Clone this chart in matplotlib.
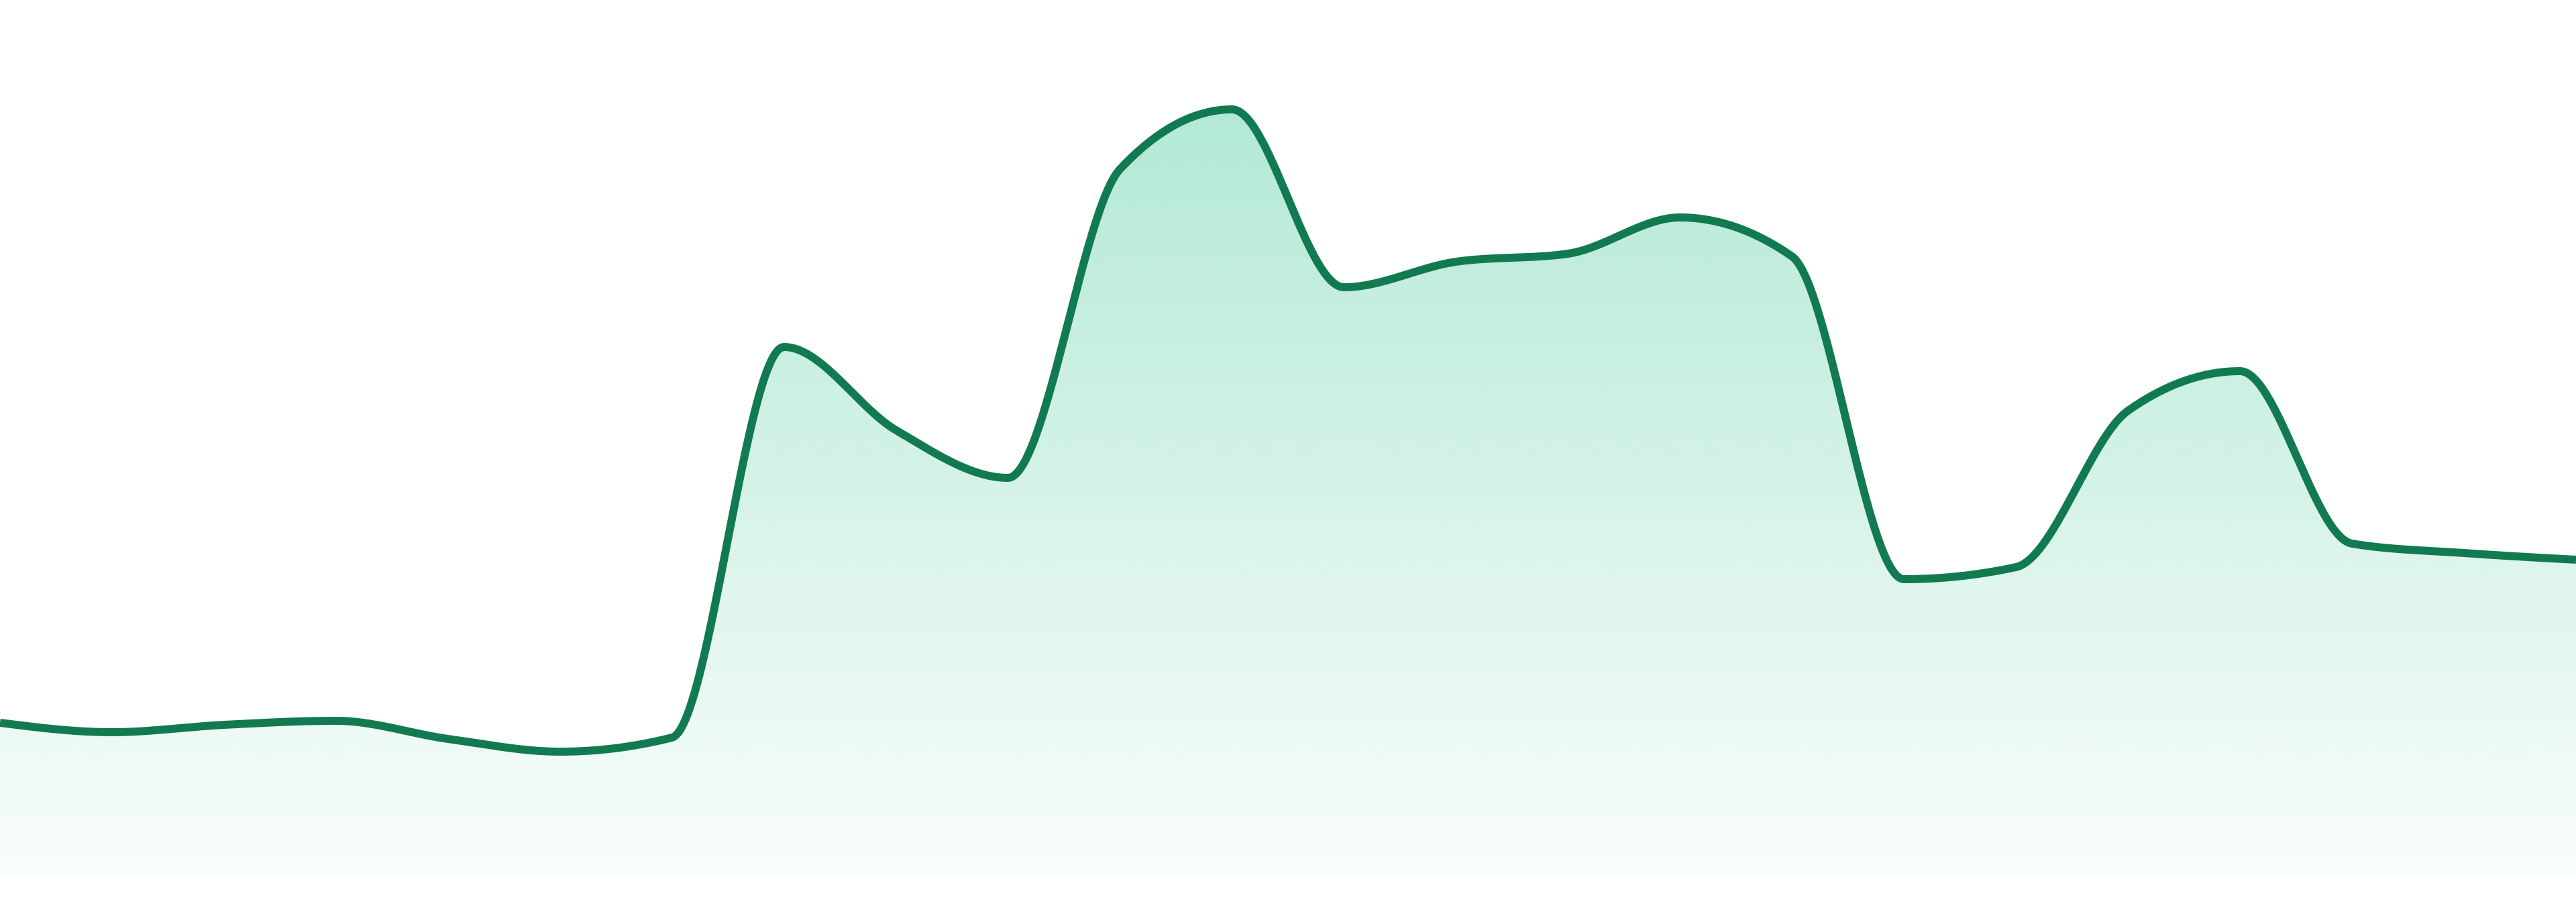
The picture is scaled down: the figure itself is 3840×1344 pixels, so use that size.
import numpy as np
import matplotlib
matplotlib.use("Agg")
import matplotlib.pyplot as plt
from matplotlib.colors import to_rgb

# Series values
x_index = list(range(24))
values = [22.7, 21.3, 22.4, 23.0, 20.3, 18.4, 20.5, 78.7, 66.3, 59.2,
          105.2, 114.1, 87.6, 91.4, 92.6, 98.0, 92.2, 44.1, 45.9, 69.2,
          75.1, 49.4, 48.0, 47.0]

LINE_COLOR = "#127a50"
FILL_COLOR = "#10b981"


def monotone_tangents(x, y):
    # same slopes as d3.curveMonotoneX
    n = len(x)
    t = np.zeros(n)
    for i in range(1, n - 1):
        h0 = x[i] - x[i - 1]
        h1 = x[i + 1] - x[i]
        s0 = (y[i] - y[i - 1]) / h0
        s1 = (y[i + 1] - y[i]) / h1
        p = (s0 * h1 + s1 * h0) / (h0 + h1)
        t[i] = (np.sign(s0) + np.sign(s1)) * min(abs(s0), abs(s1), 0.5 * abs(p))
    h = x[1] - x[0]
    t[0] = (3 * (y[1] - y[0]) / h - t[1]) / 2
    h = x[-1] - x[-2]
    t[-1] = (3 * (y[-1] - y[-2]) / h - t[-2]) / 2
    return t


def monotone_curve(x, y, steps=60):
    x = np.asarray(x, float)
    y = np.asarray(y, float)
    t = monotone_tangents(x, y)
    xs, ys = [], []
    for i in range(len(x) - 1):
        h = x[i + 1] - x[i]
        u = np.linspace(0, 1, steps, endpoint=(i == len(x) - 2))
        h00 = 2 * u**3 - 3 * u**2 + 1
        h10 = u**3 - 2 * u**2 + u
        h01 = -2 * u**3 + 3 * u**2
        h11 = u**3 - u**2
        xs.append(x[i] + u * h)
        ys.append(h00 * y[i] + h10 * h * t[i] + h01 * y[i + 1] + h11 * h * t[i + 1])
    return np.concatenate(xs), np.concatenate(ys)


cx, cy = monotone_curve(x_index, values)

fig = plt.figure(figsize=(38.4, 13.44), dpi=100)
ax = fig.add_axes([0, 0, 1, 1])
ax.axis("off")

# gradient area under the curve
ymax = max(values)
rgb = np.array(to_rgb(FILL_COLOR))
grad = np.linspace(0, 1, 256)[:, None]  # 0 at bottom, 1 at top
alpha = 0.025 + (0.32 - 0.025) * grad
img = np.ones((256, 1, 4))
img[:, :, :3] = rgb
img[:, :, 3] = alpha
im = ax.imshow(img, extent=(0, 23, 0, ymax), origin="lower", aspect="auto",
               interpolation="bilinear", zorder=1)
poly = ax.fill_between(cx, 0, cy, color="none", lw=0)
clip = poly.get_paths()[0]
im.set_clip_path(clip, transform=ax.transData)

ax.plot(cx, cy, color=LINE_COLOR, lw=8.6, solid_joinstyle="round",
        solid_capstyle="butt", zorder=3)

# imshow resets the limits, so set them last
ax.set_xlim(0, 23)
ax.set_ylim(-4.0, 130.4)

fig.savefig("out.png", dpi=100, facecolor="white")
